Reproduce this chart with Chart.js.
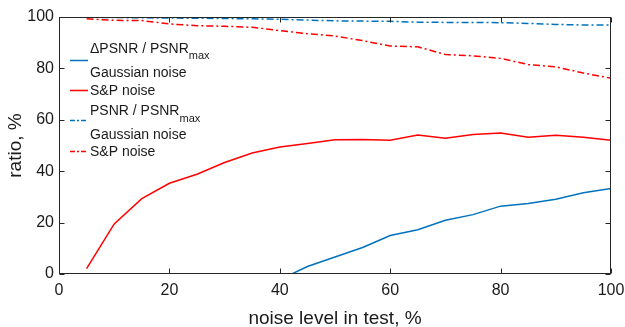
<!DOCTYPE html>
<html><head><meta charset="utf-8">
<script src="https://cdn.jsdelivr.net/npm/chart.js@4"></script>
<style>html,body{margin:0;padding:0;background:#fff;overflow:hidden}</style>
</head><body>
<canvas id="c" width="625" height="327"></canvas>
<script>
const noiseLevels = [5,10,15,20,25,30,35,40,45,50,55,60,65,70,75,80,85,90,95,100];
const gaussDelta  = [null,null,null,null,null,null,null,-2.2,2.9,6.6,10.3,15.0,17.2,20.9,23.1,26.4,27.4,29.1,31.6,33.3];
const spDelta     = [2.1,19.5,29.3,35.3,38.8,43.4,47.1,49.4,50.8,52.2,52.3,52.0,54.1,52.8,54.3,54.9,53.2,54.0,53.2,52.0];
const gaussPsnr   = [99.9,99.8,99.7,99.6,99.5,99.4,99.3,99.1,98.8,98.5,98.4,98.3,98.0,97.9,97.9,97.8,97.5,97.1,96.9,96.9];
const spPsnr      = [99.3,98.7,98.6,97.3,96.6,96.4,96.0,94.7,93.5,92.6,90.8,88.7,88.4,85.4,84.9,83.9,81.5,80.6,78.2,76.2];
const xTicks = [0,20,40,60,80,100];
const yTicks = [0,20,40,60,80,100];
const xTitle = 'noise level in test, %';
const yTitle = 'ratio, %';
const legendLabels = [
  [['\u0394PSNR / PSNR','max'], ['Gaussian noise']],
  [['S&P noise']],
  [['PSNR / PSNR','max'], ['Gaussian noise']],
  [['S&P noise']]
];

const FONT = '"Liberation Sans", Arial, Helvetica, sans-serif';
const BLUE = '#0072BD', RED = '#FF0000', AXIS = '#262626';
const DASHDOT = [7,3,2,3];

function pts(vals){ return noiseLevels.map((x,i)=>({x:x, y:vals[i]})); }

const datasets = [
  {data: pts(gaussDelta), borderColor: BLUE, borderDash: []},
  {data: pts(spDelta), borderColor: RED, borderDash: []},
  {data: pts(gaussPsnr), borderColor: BLUE, borderDash: DASHDOT},
  {data: pts(spPsnr), borderColor: RED, borderDash: DASHDOT}
].map(d => Object.assign({borderWidth: 1.5, pointRadius: 0, tension: 0, fill: false, spanGaps: false}, d));

const boxPlugin = {
  id: 'box',
  afterDraw(chart){
    const {ctx, chartArea, scales} = chart;
    const L = Math.round(chartArea.left)+0.5, R = Math.round(chartArea.right)-0.5;
    const T = Math.round(chartArea.top)+0.5, B = Math.round(chartArea.bottom)-0.5;
    ctx.save();
    ctx.strokeStyle = AXIS; ctx.lineWidth = 1;
    ctx.strokeRect(L, T, R-L, B-T);
    const tl = 5;
    ctx.beginPath();
    xTicks.forEach(v => {
      const p = Math.round(scales.x.getPixelForValue(v)) + 0.5;
      ctx.moveTo(p, B); ctx.lineTo(p, B - tl);
      ctx.moveTo(p, T); ctx.lineTo(p, T + tl);
    });
    yTicks.forEach(v => {
      const p = Math.round(scales.y.getPixelForValue(v)) + 0.5;
      ctx.moveTo(L, p); ctx.lineTo(L + tl, p);
      ctx.moveTo(R, p); ctx.lineTo(R - tl, p);
    });
    ctx.stroke();
    ctx.restore();
  }
};

const legendPlugin = {
  id: 'customLegend',
  afterDraw(chart){
    const {ctx} = chart;
    const rows = [
      {baselines: [52.7, 76.7], lineY: 60.5},
      {baselines: [95], lineY: 90.5},
      {baselines: [115, 139.3], lineY: 120.5},
      {baselines: [156], lineY: 151.5}
    ];
    const x0 = 70, x1 = 88, tx = 90;
    ctx.save();
    rows.forEach((r, i) => {
      const ds = datasets[i];
      ctx.strokeStyle = ds.borderColor;
      ctx.lineWidth = 1.5;
      ctx.setLineDash(ds.borderDash.length ? [5,2,2,2] : []);
      ctx.beginPath(); ctx.moveTo(x0, r.lineY); ctx.lineTo(x1, r.lineY); ctx.stroke();
      ctx.setLineDash([]);
      ctx.fillStyle = '#1a1a1a';
      ctx.textBaseline = 'alphabetic';
      ctx.textAlign = 'left';
      legendLabels[i].forEach((ln, j) => {
        ctx.font = '14px ' + FONT;
        ctx.fillText(ln[0], tx, r.baselines[j]);
        if (ln[1]) {
          const w = ctx.measureText(ln[0]).width;
          ctx.font = '11px ' + FONT;
          ctx.fillText(ln[1], tx + w, r.baselines[j] + 6.5);
        }
      });
    });
    ctx.restore();
  }
};

new Chart(document.getElementById('c'), {
  type: 'line',
  data: {datasets},
  options: {
    responsive: false,
    animation: false,
    devicePixelRatio: 1,
    layout: {padding: {top: 17, right: 14, bottom: 0, left: 0}},
    plugins: {legend: {display: false}, tooltip: {enabled: false}},
    scales: {
      x: {
        type: 'linear', min: 0, max: 100,
        afterBuildTicks(s){ s.ticks = xTicks.map(v => ({value: v})); },
        afterFit(s){ s.height = 53; s.paddingLeft = 0; s.paddingRight = 0; },
        grid: {display: false, drawTicks: false},
        border: {display: false},
        ticks: {font: {family: FONT, size: 16}, color: '#1a1a1a', padding: 7, maxRotation: 0},
        title: {display: true, text: xTitle, font: {family: FONT, size: 19, lineHeight: 0.9}, color: '#1a1a1a', padding: {top: 0, bottom: 0}}
      },
      y: {
        type: 'linear', min: 0, max: 100,
        afterBuildTicks(s){ s.ticks = yTicks.map(v => ({value: v})); },
        afterFit(s){ s.width = 59; s.paddingTop = 0; s.paddingBottom = 0; },
        grid: {display: false, drawTicks: false},
        border: {display: false},
        ticks: {font: {family: FONT, size: 16}, color: '#1a1a1a', padding: 5},
        title: {display: true, text: yTitle, font: {family: FONT, size: 19, lineHeight: 1.2}, color: '#1a1a1a', padding: {top: 4, bottom: 4}}
      }
    }
  },
  plugins: [boxPlugin, legendPlugin]
});
</script>
</body></html>
